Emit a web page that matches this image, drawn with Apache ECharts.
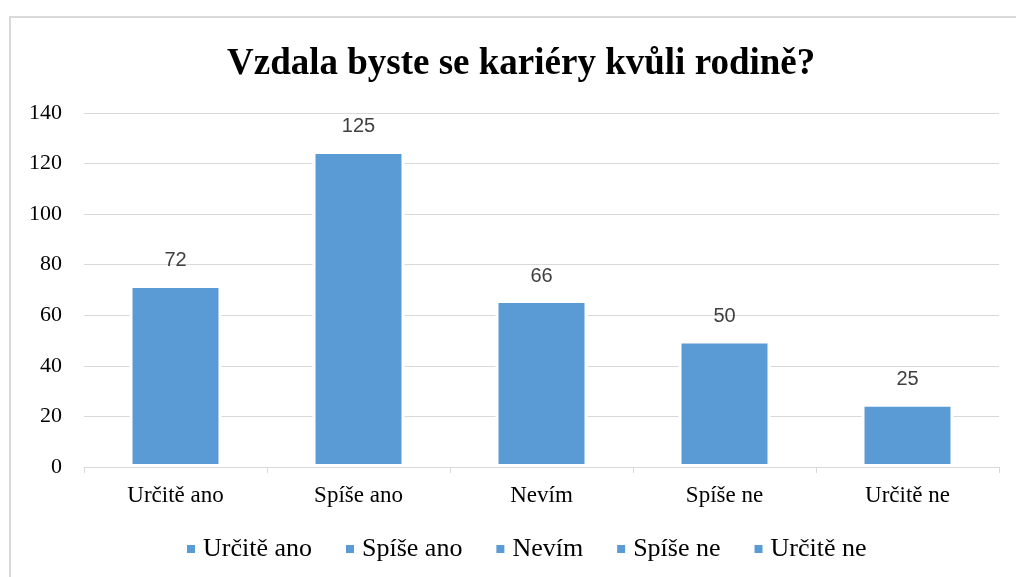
<!DOCTYPE html>
<html>
<head>
<meta charset="utf-8">
<script src="https://cdn.jsdelivr.net/npm/echarts@6/dist/echarts.min.js"></script>
<style>
  html, body { margin: 0; padding: 0; background: #fff; overflow: hidden; }
  #frame { position: absolute; left: 9px; top: 16px; width: 1100px; height: 700px; border: 2px solid #d9d9d9; box-sizing: border-box; }
  #chart { position: absolute; left: 0; top: 0; width: 1016px; height: 577px; }
</style>
</head>
<body>
<div id="frame"></div>
<div id="chart"></div>
<script>
const titleText = 'Vzdala byste se kariéry kvůli rodině?';
const categories = ['Určitě ano', 'Spíše ano', 'Nevím', 'Spíše ne', 'Určitě ne'];
const values = [72, 125, 66, 50, 25];
const yTicks = { min: 0, max: 140, interval: 20 };

const barColor = '#5B9BD5';
const serif = '"Liberation Serif", "Times New Roman", serif';

const series = categories.map((name, i) => ({
  name: name,
  type: 'bar',
  stack: 'all',
  barWidth: 92,
  itemStyle: { color: barColor, borderColor: '#ffffff', borderWidth: 3 },
  label: {
    show: true,
    position: 'top',
    distance: 14,
    fontFamily: '"Liberation Sans", Arial, sans-serif',
    fontSize: 20,
    color: '#404040'
  },
  data: values.map((v, j) => (j === i ? v : '-'))
}));

const chart = echarts.init(document.getElementById('chart'), null, { renderer: 'canvas' });
chart.setOption({
  animation: false,
  title: {
    text: titleText,
    left: 222,
    top: 41,
    textStyle: { fontFamily: serif, fontWeight: 'bold', fontSize: 37, color: '#000' }
  },
  legend: {
    data: categories,
    left: 180,
    top: 531,
    itemGap: 32,
    itemWidth: 10,
    itemHeight: 10,
    icon: 'rect',
    textStyle: { fontFamily: serif, fontSize: 26, color: '#000', padding: [0, 0, 0, 2] }
  },
  grid: { left: 84, right: 17, top: 113, bottom: 110, containLabel: false },
  xAxis: {
    type: 'category',
    data: categories,
    axisLine: { lineStyle: { color: '#d9d9d9', width: 1 } },
    axisTick: { show: true, alignWithLabel: false, length: 6, lineStyle: { color: '#d9d9d9' } },
    axisLabel: { margin: 17, fontFamily: serif, fontSize: 23, color: '#000' }
  },
  yAxis: {
    type: 'value',
    min: yTicks.min,
    max: yTicks.max,
    interval: yTicks.interval,
    axisLine: { show: false },
    axisTick: { show: false },
    axisLabel: { margin: 22, fontFamily: serif, fontSize: 22, color: '#000' },
    splitLine: { lineStyle: { color: '#d9d9d9', width: 1 } }
  },
  series: series
});
</script>
</body>
</html>
